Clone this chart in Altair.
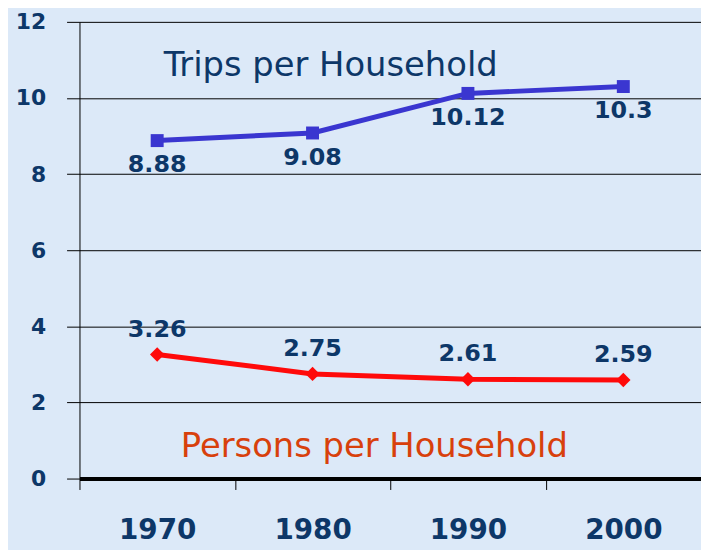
import altair as alt
import pandas as pd

years = ["1970", "1980", "1990", "2000"]
trips = [8.88, 9.08, 10.12, 10.3]
persons = [3.26, 2.75, 2.61, 2.59]
y_ticks = [0, 2, 4, 6, 8, 10, 12]
trips_label = "Trips per Household"
persons_label = "Persons per Household"

df = pd.DataFrame({
    "year": years * 2,
    "value": trips + persons,
    "series": [trips_label] * 4 + [persons_label] * 4,
})
df["text"] = df["value"].map(lambda v: f"{v:g}")

NAVY = "#0d3768"
BLUE = "#3a36d0"
RED = "#ff0a0a"
ORANGE = "#d8400c"
BG = "#dce9f8"
FONT = "DejaVu Sans"

xenc = alt.X(
    "year:O",
    bandPosition=0.5,
    sort=years,
    scale=alt.Scale(type="band", paddingInner=0, paddingOuter=0),
    axis=alt.Axis(
        title=None, labelAngle=0, tickBand="extent", tickSize=11, tickColor="black",
        domainColor="black", domainWidth=4, labelPadding=27, labelFont=FONT,
        labelFontSize=28, labelFontWeight="bold", labelColor=NAVY, grid=False,
    ),
)
yenc = alt.Y(
    "value:Q",
    scale=alt.Scale(domain=[0, 12], nice=False, zero=True),
    axis=alt.Axis(
        title=None, values=y_ticks, tickSize=13, tickColor="black", domainColor="black",
        domainWidth=1, grid=True, gridColor="black", gridWidth=1, gridOpacity=1,
        labelPadding=21, labelFont=FONT, labelFontSize=22, labelFontWeight="bold",
        labelColor=NAVY, minExtent=72, maxExtent=72,
    ),
)

base = alt.Chart(df).encode(x=xenc, y=yenc)
tdata = base.transform_filter(alt.datum.series == trips_label)
pdata = base.transform_filter(alt.datum.series == persons_label)

trips_line = tdata.mark_line(color=BLUE, strokeWidth=5)
trips_pts = tdata.mark_point(shape="square", filled=True, size=170, color=BLUE, opacity=1)
trips_txt = tdata.mark_text(dy=25, font=FONT, fontSize=24, fontWeight="bold", color=NAVY).encode(text="text:N")

pers_line = pdata.mark_line(color=RED, strokeWidth=5)
pers_pts = pdata.mark_point(shape="diamond", filled=True, size=210, color=RED, opacity=1)
pers_txt = pdata.mark_text(dy=-25, font=FONT, fontSize=24, fontWeight="bold", color=NAVY).encode(text="text:N")

ann_trips = alt.Chart(pd.DataFrame({"t": [trips_label]})).mark_text(
    font=FONT, fontSize=34, color=NAVY, baseline="middle", align="center"
).encode(x=alt.value(253), y=alt.datum(10.85), text="t:N")
ann_pers = alt.Chart(pd.DataFrame({"t": [persons_label]})).mark_text(
    font=FONT, fontSize=34, color=ORANGE, baseline="middle", align="center"
).encode(x=alt.value(297), y=alt.datum(0.83), text="t:N")

chart = alt.layer(
    trips_line, trips_pts, trips_txt, pers_line, pers_pts, pers_txt, ann_trips, ann_pers
).properties(
    width=626, height=460, background=BG,
    autosize=alt.AutoSizeParams(type="none"),
    padding={"left": 72, "top": 12, "right": 0, "bottom": 70},
).configure_view(strokeWidth=0, fill=BG)

chart.save("out.html", embed_options={"renderer": "svg", "actions": False})
